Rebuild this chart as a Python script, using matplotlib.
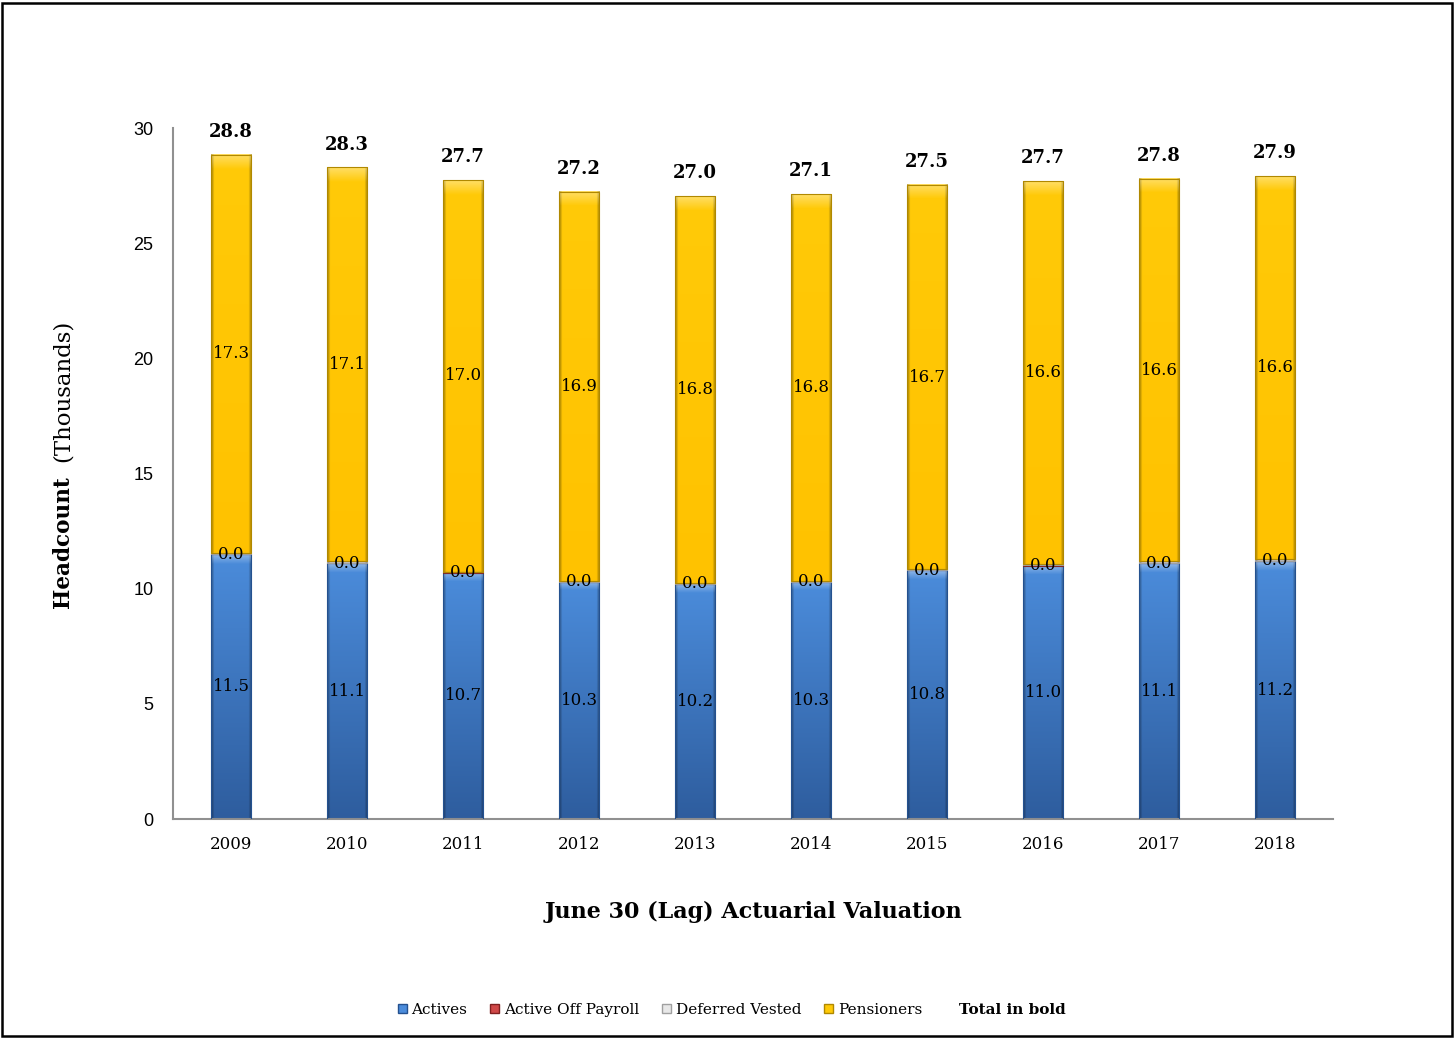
import numpy as np
import matplotlib
matplotlib.use("Agg")
import matplotlib.pyplot as plt
from matplotlib.patches import Patch, Rectangle
from matplotlib.colors import to_rgb

years = ["2009", "2010", "2011", "2012", "2013", "2014", "2015", "2016", "2017", "2018"]
actives = [11.5, 11.1, 10.7, 10.3, 10.2, 10.3, 10.8, 11.0, 11.1, 11.2]
active_off_payroll = [0.01, 0.01, 0.01, 0.01, 0.01, 0.01, 0.01, 0.01, 0.01, 0.02]
deferred_vested = [0.03, 0.08, 0.03, 0.03, 0.03, 0.03, 0.03, 0.08, 0.08, 0.09]
pensioners = [17.3, 17.1, 17.0, 16.9, 16.8, 16.8, 16.7, 16.6, 16.6, 16.6]

series_names = ["Actives", "Active Off Payroll", "Deferred Vested", "Pensioners"]

SERIF = "DejaVu Serif"
SANS = "Liberation Sans"

fig = plt.figure(figsize=(14.55, 10.39), dpi=100)
ax = fig.add_axes([0.1189, 0.2117, 0.9162 - 0.1189, 0.8768 - 0.2117])

x = np.arange(len(years))
width = 0.35

# (top colour, bottom colour, edge colour) for the shaded bars
shades = {
    "Actives": ("#4B8CDB", "#2E5D9E", "#24518F"),
    "Active Off Payroll": ("#D04848", "#A02020", "#802020"),
    "Deferred Vested": ("#E8E8E8", "#C8C8C8", "#A0A0A0"),
    "Pensioners": ("#FFCA08", "#FFC200", "#B08800"),
}


def shaded_segment(xc, bottom, height, key):
    if height <= 0:
        return
    top_c, bot_c, edge_c = (np.array(to_rgb(c)) for c in shades[key])
    ny, nx = 120, 40
    t = np.linspace(0, 1, ny)[:, None, None]  # 0 at top, 1 at bottom
    img = top_c * (1 - t) + bot_c * t
    img = np.repeat(img, nx, axis=1)
    # darker rims along both sides
    u = np.linspace(-1, 1, nx)
    rim = np.clip((np.abs(u) - 0.85) / 0.15, 0, 1)[None, :, None]
    img = img * (1 - 0.35 * rim)
    # light bevel along the top edge
    rows = np.arange(ny)
    hl = np.clip(1 - rows / 4.0, 0, 1)[:, None, None]
    img = img * (1 - 0.35 * hl) + np.ones(3) * 0.35 * hl
    img = np.clip(img, 0, 1)
    ax.imshow(img, extent=(xc - width / 2, xc + width / 2, bottom, bottom + height),
              aspect="auto", origin="upper", interpolation="bilinear", zorder=2)
    ax.add_patch(Rectangle((xc - width / 2, bottom), width, height, fill=False,
                           edgecolor=edge_c, linewidth=0.8, zorder=3))


data = [actives, active_off_payroll, deferred_vested, pensioners]
bottoms = np.zeros(len(years))
for name, vals in zip(series_names, data):
    vals = np.array(vals, dtype=float)
    for i in range(len(years)):
        shaded_segment(x[i], bottoms[i], vals[i], name)
    if name in ("Actives", "Active Off Payroll", "Pensioners"):
        for i in range(len(years)):
            ax.text(x[i], bottoms[i] + vals[i] / 2, f"{vals[i]:.1f}", ha="center",
                    va="center", fontsize=12, family=SERIF, color="black", zorder=5)
    bottoms = bottoms + vals

totals = bottoms
for i in range(len(years)):
    ax.text(x[i], totals[i] + 0.6, f"{totals[i]:.1f}", ha="center", va="bottom",
            fontsize=13, fontweight="bold", family=SERIF, color="black", zorder=5)

ax.set_xlim(-0.5, len(years) - 0.5)
ax.set_ylim(0, 30)
ax.set_yticks([0, 5, 10, 15, 20, 25, 30])
ax.set_xticks(x)
ax.set_xticklabels(years, family=SERIF, fontsize=12)
for lbl in ax.get_yticklabels():
    lbl.set_family(SANS)
    lbl.set_fontsize(13)
ax.tick_params(axis="y", length=0, pad=14)
ax.tick_params(axis="x", length=4, direction="in", color="#A0A0A0", pad=12)
for s in ("top", "right"):
    ax.spines[s].set_visible(False)
ax.spines["left"].set_color("#909090")
ax.spines["bottom"].set_color("#909090")
ax.spines["left"].set_linewidth(1.5)
ax.spines["bottom"].set_linewidth(1.5)
ax.set_aspect("auto")

# axis titles
fig.text(753 / 1455, 1 - 912 / 1039, "June 30 (Lag) Actuarial Valuation",
         ha="center", va="center", fontsize=16, fontweight="bold", family=SERIF)
fig.text(63 / 1455, 1 - 608 / 1039, "Headcount", rotation=90, ha="center", va="bottom",
         fontsize=15.5, fontweight="bold", family=SERIF)
fig.text(63 / 1455, 1 - 320 / 1039, "(Thousands)", rotation=90, ha="center", va="top",
         fontsize=16.5, family=SERIF)

# legend
handles = [Patch(facecolor=shades[n][0], edgecolor=shades[n][2], label=n) for n in series_names]
fig.legend(handles=handles, loc="center", bbox_to_anchor=(660 / 1455, 1 - 1010 / 1039),
           ncol=4, frameon=False, handlelength=0.6, handleheight=0.6,
           handletextpad=0.3, columnspacing=1.5, prop={"family": SERIF, "size": 11})
fig.text(1012 / 1455, 1 - 1010 / 1039, "Total in bold", ha="center", va="center",
         fontsize=11, fontweight="bold", family=SERIF)

# outer frame
fig.add_artist(Rectangle((2 / 1455, 3 / 1039), 1450 / 1455, 1033 / 1039,
                         transform=fig.transFigure, fill=False, edgecolor="black",
                         linewidth=1.8))

fig.savefig("out.png", dpi=100, facecolor="white")
